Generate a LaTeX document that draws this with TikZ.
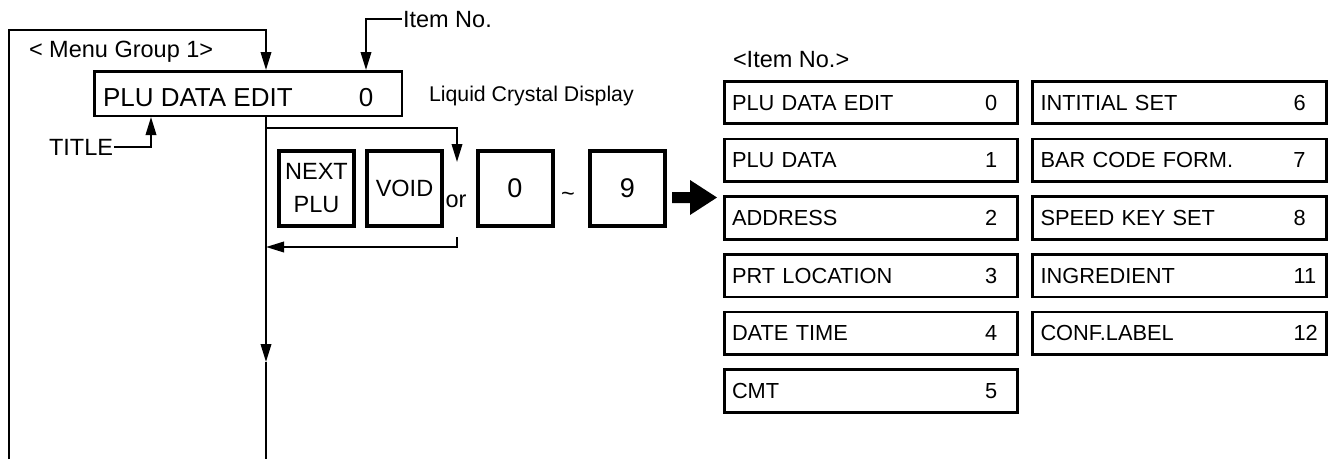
\documentclass[tikz,border=0pt]{standalone}
\usepackage{fontspec}
\setmainfont{Liberation Sans}
\usetikzlibrary{arrows.meta,positioning}
\newcommand{\itemrow}[2]{\makebox[253pt][l]{#1}#2}

\begin{document}
\begin{tikzpicture}[x=1pt,y=-1pt,line width=2pt,
    >={Triangle[length=18pt,width=10.5pt]},
    lbl/.style={inner sep=0pt,font=\fontsize{23.5}{28}\selectfont},
    note/.style={inner sep=0pt,font=\fontsize{21.3}{25}\selectfont},
    lcdbox/.style={draw,line width=2.5pt,minimum width=307.5pt,minimum height=44.5pt,inner sep=0pt},
    lcdtxt/.style={inner sep=0pt,font=\fontsize{26}{30}\selectfont},
    keybox/.style={draw,line width=4pt,minimum size=75pt,inner sep=0pt,align=center,
        font=\fontsize{23.5}{33}\selectfont},
    digitkey/.style={keybox,font=\fontsize{27}{30}\selectfont},
    itembox/.style={draw,line width=2.7pt,text width=278pt,align=left,inner xsep=7.75pt,
        inner ysep=0pt,minimum height=42.5pt,font=\fontsize{21.8}{25}\selectfont}]
    \useasboundingbox (0,0) rectangle (1334,459);

    % Display and its labels
    \node[lcdbox] (lcd) at (248,93.5) {};
    \node[lcdtxt,anchor=base west] (lcdtitle) at (102,106) {PLU DATA EDIT};
    \node[lcdtxt,anchor=base] (lcdnum) at (366,106) {0};
    \node[lbl,anchor=base west] (menugrp) at (28,57) {< Menu Group 1>};
    \node[lbl,anchor=base west] (itemno) at (402,27) {Item No.};
    \node[lbl,anchor=base west] (titlelbl) at (48,155) {TITLE};
    \node[note,anchor=base west] (lcdnote) at (428,101) {Liquid Crystal Display};

    % Keys
    \node[keybox] (nextplu) at (316.5,188.5) {NEXT\\PLU};
    \node[keybox,right=9pt of nextplu] (void) {VOID};
    \node[lbl,anchor=base] (orlbl) at (456,207) {or};
    \node[digitkey] (zero) at (515,188.5) {0};
    \node[lbl,anchor=base] (tilde) at (568,201) {\textasciitilde};
    \node[digitkey,right=33.5pt of zero] (nine) {9};

    % Big arrow
    \fill (672,192) -- (690,192) -- (690,180) -- (717,197.5) -- (690,215)
        -- (690,203) -- (672,203) -- cycle;

    % Item list
    \node[lbl,anchor=base west] (listhead) at (732,67) {<Item No.>};
    \node[itembox] (it0) at (871,102.5) {\itemrow{PLU DATA EDIT}{0}};
    \node[itembox,below=12.5pt of it0] (it1) {\itemrow{PLU DATA}{1}};
    \node[itembox,below=12.5pt of it1] (it2) {\itemrow{ADDRESS}{2}};
    \node[itembox,below=12.5pt of it2] (it3) {\itemrow{PRT LOCATION}{3}};
    \node[itembox,below=12.5pt of it3] (it4) {\itemrow{DATE TIME}{4}};
    \node[itembox,below=12.5pt of it4] (it5) {\itemrow{CMT}{5}};
    \node[itembox] (it6) at (1179.5,102.5) {\itemrow{INTITIAL SET}{6}};
    \node[itembox,below=12.5pt of it6] (it7) {\itemrow{BAR CODE FORM.}{7}};
    \node[itembox,below=12.5pt of it7] (it8) {\itemrow{SPEED KEY SET}{8}};
    \node[itembox,below=12.5pt of it8] (it11) {\itemrow{INGREDIENT}{11}};
    \node[itembox,below=12.5pt of it11] (it12) {\itemrow{CONF.LABEL}{12}};

    % Connectors
    \coordinate (mgbot) at (9,459);
    \coordinate (mgtop) at (266,30);
    \draw[->] (mgbot) |- (mgtop) -- (mgtop |- lcd.north);
    \draw[->] (itemno.west) -| (lcdnum |- lcd.north);
    \draw[->] (titlelbl.east) -| ([xshift=58pt]lcd.south west);

    \coordinate (flowtop) at (lcd.south -| mgtop);
    \coordinate (flowmid) at (266,362);
    \coordinate (flowbot) at (266,459);
    \draw[->] (flowtop) -- (flowmid);
    \draw (flowmid) -- (flowbot);

    \coordinate (loopout) at (266,128);
    \coordinate (loopin) at (457,162);
    \draw[->] (loopout) -| (loopin);
    \coordinate (loopret) at (457,237);
    \coordinate (loopback) at (266,247);
    \draw[->] (loopret) |- (loopback);
\end{tikzpicture}
\end{document}
